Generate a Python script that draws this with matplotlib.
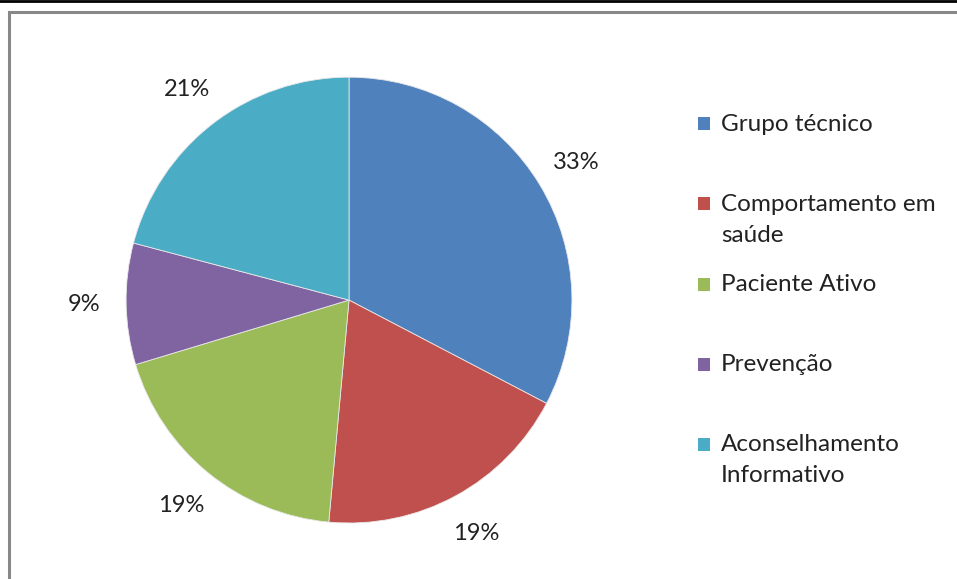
import matplotlib.pyplot as plt
from matplotlib.patches import Rectangle

# dati
categorie = ['Grupo técnico', 'Comportamento em\nsaúde', 'Paciente Ativo',
             'Prevenção', 'Aconselhamento\nInformativo']
valori = [32.7, 18.8, 18.9, 8.8, 20.9]
colori = ['#4F81BD', '#C0504D', '#9BBB59', '#8064A2', '#4BACC6']

plt.rcParams['font.family'] = ['Lato', 'DejaVu Sans']

fig = plt.figure(figsize=(9.57, 5.79), dpi=100)

# cornice grigia del grafico + linea nera in alto
fig.add_artist(plt.Line2D([0, 1], [0.998, 0.998], color='black', lw=2,
                          transform=fig.transFigure))
fig.add_artist(Rectangle((9 / 957, -0.05), 1.2, 1 - 11.5 / 579 + 0.05,
                         transform=fig.transFigure, fill=False,
                         edgecolor='#888888', lw=2.2))

ax = fig.add_axes([0.1317, 0.0967, 0.466, 0.770])
ax.pie(valori, colors=colori, startangle=90, counterclock=False,
       autopct='%1.0f%%', pctdistance=1.19,
       wedgeprops=dict(edgecolor='#e8e8e8', linewidth=0.6),
       textprops=dict(fontsize=17, color='#222222'))
ax.set_xlim(-1, 1)
ax.set_ylim(-1, 1)
ax.set_aspect('equal')

# legenda fatta a mano (uno slot ogni 80 px)
for i, (cat, col) in enumerate(zip(categorie, colori)):
    y = 1 - (124 + 80 * i) / 579
    fig.add_artist(Rectangle((698 / 957, y - 6.5 / 579), 12 / 957, 13 / 579,
                             transform=fig.transFigure, facecolor=col,
                             edgecolor='none'))
    fig.text(721 / 957, y + 10 / 579, cat, fontsize=17.5, color='#222222',
             va='top', ha='left', linespacing=1.6)

fig.savefig('out.png', dpi=100)
